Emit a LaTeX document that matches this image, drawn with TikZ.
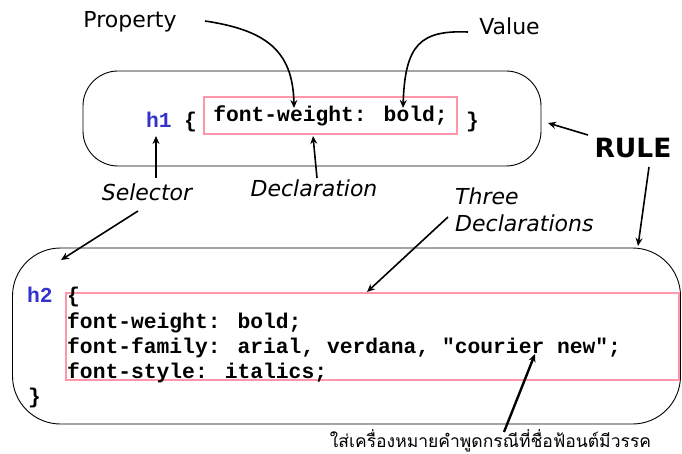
\documentclass[tikz,border=0pt]{standalone}
\usepackage{fontspec}
\setmainfont{DejaVu Sans}
\newfontfamily\codefont{Liberation Mono}
\newfontfamily\thaifont[Script=Thai]{Loma}
\usetikzlibrary{arrows.meta}

\definecolor{tagblue}{RGB}{51,51,204}
\definecolor{declpink}{RGB}{255,150,170}

\begin{document}
\begin{tikzpicture}[x=1pt,y=-1pt,
  code/.style={font=\codefont\bfseries\fontsize{21.3}{25}\selectfont, inner sep=0pt, anchor=base west},
  tag/.style={code, text=tagblue},
  lbl/.style={font=\fontsize{22}{26}\selectfont, inner sep=0pt, anchor=base},
  ilbl/.style={lbl, font=\itshape\fontsize{22}{26}\selectfont},
  ptr/.style={draw, line width=1.6pt, -{Stealth[length=8pt,width=7pt]}},
  rulebox/.style={draw, line width=0.9pt, inner sep=0pt},
  declbox/.style={draw=declpink, line width=1.2pt, inner sep=0pt}
]
\useasboundingbox (0,0) rectangle (682,454);

% the two rule boxes
\node[rulebox, rounded corners=35pt, minimum width=458pt, minimum height=95pt] (rule1) at (312,118.5) {};
\node[rulebox, rounded corners=48pt, minimum width=668pt, minimum height=176pt] (rule2) at (346.5,336) {};

% single declaration rule
\node[tag] (h1) at (146,128) {h1};
\node[code] (open1) at (184,128) {\{};
\node[declbox, code, anchor=center, minimum width=253pt, minimum height=37pt] (decl1) at (330.5,115.5) {font-weight: bold;};
\node[code] (close1) at (466,128) {\}};

% rule with three declarations
\node[declbox, minimum width=613pt, minimum height=87pt] (decls) at (372.5,336.5) {};
\node[tag] (h2) at (27,302) {h2};
\node[code] (open2) at (67,302) {\{};
\node[code] (d1) at (67,328) {font-weight: bold;};
\node[code] (d2) at (67,353) {font-family: arial, verdana, "courier new";};
\node[code] (d3) at (67,378) {font-style: italics;};
\node[code] (close2) at (28,403) {\}};

% labels
\node[lbl] (prop) at (130,28) {Property};
\node[lbl] (val) at (509.5,35) {Value};
\node[ilbl] (sel) at (147,201) {Selector};
\node[ilbl] (decl) at (314,197) {Declaration};
\node[ilbl, anchor=base west] (three) at (455,205) {Three};
\node[ilbl, anchor=base west] (threedecl) at (455,232) {Declarations};
\node[lbl, font=\bfseries\fontsize{26.5}{30}\selectfont] (rule) at (633,158) {RULE};
\node[lbl, font=\thaifont\fontsize{17.5}{21}\selectfont] (note) at (490.5,447) {ใส่เครื่องหมายคำพูดกรณีที่ชื่อฟ้อนต์มีวรรค};

% arrow end points
\coordinate (propS) at (205,21);
\coordinate (propE) at (294,108);
\coordinate (valS) at (468,32);
\coordinate (valE) at (403,108);
\coordinate (selS) at (156,178);
\coordinate (selE) at (156,136);
\coordinate (declS) at (317,178);
\coordinate (declE) at (313,136);
\coordinate (sel2S) at (138,211);
\coordinate (sel2E) at (61,260);
\coordinate (ruleS1) at (588,135);
\coordinate (ruleE1) at (548,123);
\coordinate (ruleS2) at (649,167);
\coordinate (ruleE2) at (638,246);
\coordinate (threeS) at (448,217);
\coordinate (threeE) at (367,292);
\coordinate (noteS) at (504,432);
\coordinate (noteE) at (535,354);

% pointers
\draw[ptr] (propS) .. controls (265,30) and (293,50) .. (propE);
\draw[ptr] (valS) .. controls (420,30) and (405,45) .. (valE);
\draw[ptr] (selS) -- (selE);
\draw[ptr] (declS) -- (declE);
\draw[ptr] (sel2S) -- (sel2E);
\draw[ptr] (ruleS1) -- (ruleE1);
\draw[ptr] (ruleS2) -- (ruleE2);
\draw[ptr] (threeS) -- (threeE);
\draw[ptr, line width=2.4pt] (noteS) -- (noteE);
\end{tikzpicture}
\end{document}
